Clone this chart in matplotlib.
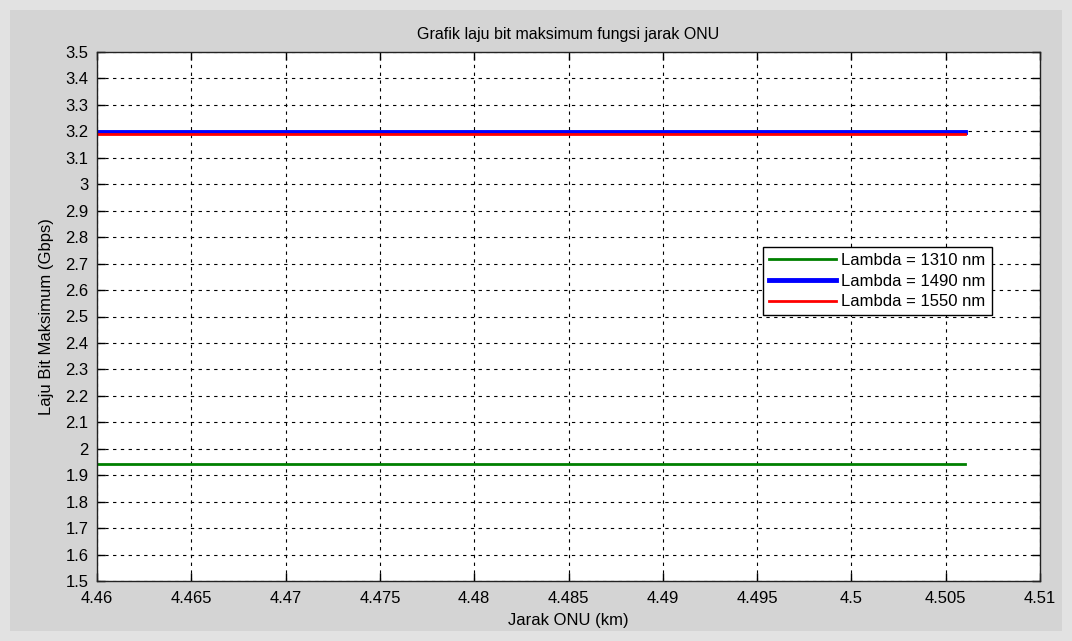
import matplotlib
matplotlib.use("Agg")
import matplotlib.pyplot as plt
from matplotlib.patches import Rectangle

plt.rcParams['font.family'] = ['Liberation Sans', 'DejaVu Sans']

# Jarak ONU (km) dan laju bit maksimum (Gbps) per panjang gelombang
jarak_onu = [4.460, 4.470, 4.480, 4.490, 4.500, 4.506]
bit_1310 = [1.942, 1.942, 1.942, 1.942, 1.942, 1.942]
bit_1490 = [3.198, 3.198, 3.198, 3.198, 3.198, 3.198]
bit_1550 = [3.189, 3.189, 3.189, 3.189, 3.189, 3.189]

x_ticks = [4.46, 4.465, 4.47, 4.475, 4.48, 4.485, 4.49, 4.495, 4.5, 4.505, 4.51]
x_labels = ['4.46', '4.465', '4.47', '4.475', '4.48', '4.485', '4.49', '4.495', '4.5', '4.505', '4.51']
y_ticks = [1.5 + 0.1 * i for i in range(21)]
y_labels = ['1.5', '1.6', '1.7', '1.8', '1.9', '2', '2.1', '2.2', '2.3', '2.4', '2.5',
            '2.6', '2.7', '2.8', '2.9', '3', '3.1', '3.2', '3.3', '3.4', '3.5']

fig = plt.figure(figsize=(10.72, 6.41), dpi=100, facecolor='#d4d4d4')
# lighter outer frame, about 10 px wide
fig.patches.append(Rectangle((0, 0), 1, 1, transform=fig.transFigure,
                             facecolor='none', edgecolor='#e2e2e2', lw=14.4, zorder=-1))

ax = fig.add_axes([97 / 1072, 1 - 581 / 641, (1040 - 97) / 1072, (581 - 52) / 641])
ax.set_facecolor('white')

ax.plot(jarak_onu, bit_1310, color='#008000', lw=2, label='Lambda = 1310 nm')
ax.plot(jarak_onu, bit_1490, color='#0000ff', lw=3.5, label='Lambda = 1490 nm')
ax.plot(jarak_onu, bit_1550, color='#ff0000', lw=2, label='Lambda = 1550 nm')

ax.set_xlim(4.46, 4.51)
ax.set_ylim(1.5, 3.5)
ax.set_xticks(x_ticks)
ax.set_xticklabels(x_labels)
ax.set_yticks(y_ticks)
ax.set_yticklabels(y_labels)
ax.tick_params(direction='in', length=6, width=1, labelsize=12, colors='black',
               top=True, right=True)
ax.tick_params(axis='x', pad=7)
ax.tick_params(axis='y', pad=6)
ax.grid(True, color='black', linestyle=(0, (3, 4)), lw=0.8)
for s in ax.spines.values():
    s.set_linewidth(1)
    s.set_color('#222222')

ax.set_title('Grafik laju bit maksimum fungsi jarak ONU', fontsize=11.5, pad=9)
ax.set_xlabel('Jarak ONU (km)', fontsize=12, labelpad=5)
ax.set_ylabel('Laju Bit Maksimum (Gbps)', fontsize=12, labelpad=8)

leg = ax.legend(loc='upper left', bbox_to_anchor=((763 - 97) / 943, 1 - (247 - 52) / 529),
                fontsize=12, fancybox=False, framealpha=1, edgecolor='black',
                borderpad=0.35, handlelength=4, labelspacing=0.35, handletextpad=0.35,
                borderaxespad=0)
leg.get_frame().set_linewidth(1)

fig.savefig('out.png', dpi=100, facecolor=fig.get_facecolor())
